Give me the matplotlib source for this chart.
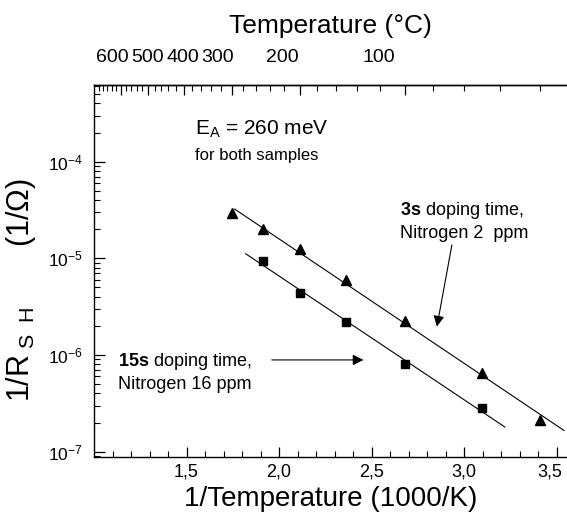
import numpy as np
import matplotlib
matplotlib.use("Agg")
import matplotlib.pyplot as plt
from matplotlib.ticker import FixedLocator, FuncFormatter, LogLocator, NullFormatter
from matplotlib.transforms import ScaledTranslation

plt.rcParams['font.family'] = ['Liberation Sans', 'DejaVu Sans']
plt.rcParams['mathtext.fontset'] = 'custom'
plt.rcParams['mathtext.rm'] = 'Liberation Sans'
plt.rcParams['mathtext.it'] = 'Liberation Sans:italic'
plt.rcParams['mathtext.bf'] = 'Liberation Sans:bold'

# ---- data ----
temp_3s_C = [300, 250, 200, 150, 100, 50, 20]
cond_3s = [2.92e-5, 2.01e-5, 1.24e-5, 5.98e-6, 2.27e-6, 6.49e-7, 2.13e-7]
temp_15s_C = [250, 200, 150, 100, 50]
cond_15s = [9.4e-6, 4.42e-6, 2.18e-6, 8.1e-7, 2.82e-7]
fit_range_3s = [1.76, 3.54]
fit_range_15s = [1.82, 3.22]
x_ticks = [1.5, 2.0, 2.5, 3.0, 3.5]
top_major_C = [600, 500, 400, 300, 200, 100]
top_minor_C = list(range(20, 720, 20))
# horizontal shift (pixels) of each top label as printed in the original
top_label_shift_px = [-9, -1, -1, -14, -18, -26]

def to_invT(tc):
    return 1000.0 / (np.asarray(tc, dtype=float) + 273.15)

def to_C(x):
    x = np.asarray(x, dtype=float)
    with np.errstate(divide='ignore'):
        return 1000.0 / x - 273.15

x3 = to_invT(temp_3s_C)
x15 = to_invT(temp_15s_C)

fig = plt.figure(figsize=(5.67, 5.19), dpi=100)
ax = fig.add_axes([94/567, 1-456.7/519, 1-94/567, (456.7-85)/519])

# fits
for xs, ys, rng in [(x3, cond_3s, fit_range_3s), (x15, cond_15s, fit_range_15s)]:
    p = np.polyfit(xs, np.log10(ys), 1)
    xx = np.array(rng)
    ax.plot(xx, 10**np.polyval(p, xx), color='black', lw=0.8)

ax.plot(x3, cond_3s, linestyle='none', marker='^', color='black', markersize=7.5)
ax.plot(x15, cond_15s, linestyle='none', marker='s', color='black', markersize=6)

ax.set_yscale('log')
ax.set_xlim(1.0, 3.556)
ax.set_ylim(10**-7.052, 10**-3.207)

ax.spines['right'].set_visible(False)
for s in ['left', 'bottom', 'top']:
    ax.spines[s].set_linewidth(1.0)

ax.xaxis.set_major_locator(FixedLocator(x_ticks))
ax.xaxis.set_major_formatter(FuncFormatter(lambda v, p: f"{v:.1f}".replace('.', ',')))
ax.xaxis.set_minor_locator(FixedLocator(np.arange(1.1, 3.56, 0.1)))
ax.tick_params(axis='x', which='major', direction='in', length=7, width=0.9, labelsize=13, pad=5)
ax.tick_params(axis='x', which='minor', direction='in', length=4, width=0.8)
ax.tick_params(axis='y', which='major', direction='in', length=8, width=0.9, labelsize=12.5, pad=8)
ax.tick_params(axis='y', which='minor', direction='in', length=4, width=0.8)
ax.yaxis.set_major_locator(LogLocator(base=10, numticks=10))
ax.yaxis.set_minor_locator(LogLocator(base=10, subs=np.arange(2, 10), numticks=20))
ax.yaxis.set_minor_formatter(NullFormatter())
ax.tick_params(top=False, right=False, which='both')

# keep the last bottom label inside the picture, as in the original
last = ax.xaxis.get_major_ticks(len(x_ticks))[-1]
last.label1.set_transform(last.label1.get_transform() + ScaledTranslation(-0.07, 0, fig.dpi_scale_trans))

# top axis in degrees C
sec = ax.secondary_xaxis('top', functions=(to_C, to_invT))
sec.xaxis.set_major_locator(FixedLocator(top_major_C))
sec.xaxis.set_minor_locator(FixedLocator(top_minor_C))
sec.xaxis.set_major_formatter(FuncFormatter(lambda v, p: ""))
sec.tick_params(which='major', direction='in', length=7, width=0.9, pad=0)
sec.tick_params(which='minor', direction='in', length=4, width=0.8)
sec.spines['top'].set_linewidth(1.0)
sec.set_xlabel('Temperature (°C)', fontsize=19, labelpad=34)

for t, dx in zip(top_major_C, top_label_shift_px):
    ax.annotate(f"{t}", xy=(float(to_invT(t)), 1.0), xycoords=('data', 'axes fraction'),
                xytext=(dx, 28), textcoords='offset pixels', ha='center', va='center',
                fontsize=14, annotation_clip=False)

ax.set_xlabel('1/Temperature (1000/K)', fontsize=20, labelpad=4)
ax.set_ylabel(r'1/R$_{\mathrm{\ S\ \ H}}$       (1/Ω)', fontsize=22)
ax.yaxis.set_label_coords(-0.118, 0.45)

# annotations
ax.text(1.546, 1.89e-4, r'E$_{\mathrm{A}}$ = 260 meV', fontsize=15, va='baseline', ha='left')
ax.text(1.546, 1.04e-4, 'for both samples', fontsize=12, va='baseline', ha='left')
ax.text(2.654, 2.81e-5, r'$\mathbf{3s}$ doping time,', fontsize=13, va='baseline', ha='left')
ax.text(2.654, 1.63e-5, 'Nitrogen 2  ppm', fontsize=13, va='baseline', ha='left')
ax.text(1.130, 7.73e-7, r'$\mathbf{15s}$ doping time,', fontsize=13, va='baseline', ha='left')
ax.text(1.130, 4.47e-7, 'Nitrogen 16 ppm', fontsize=13, va='baseline', ha='left')

arrow = dict(arrowstyle='-|>', color='black', lw=0.8, mutation_scale=16, shrinkA=0, shrinkB=0)
ax.annotate('', xy=(2.853, 10**-5.706), xytext=(2.934, 10**-4.861), arrowprops=arrow)
ax.annotate('', xy=(2.456, 10**-6.051), xytext=(1.961, 10**-6.051), arrowprops=arrow)

fig.savefig('out.png', dpi=100)
